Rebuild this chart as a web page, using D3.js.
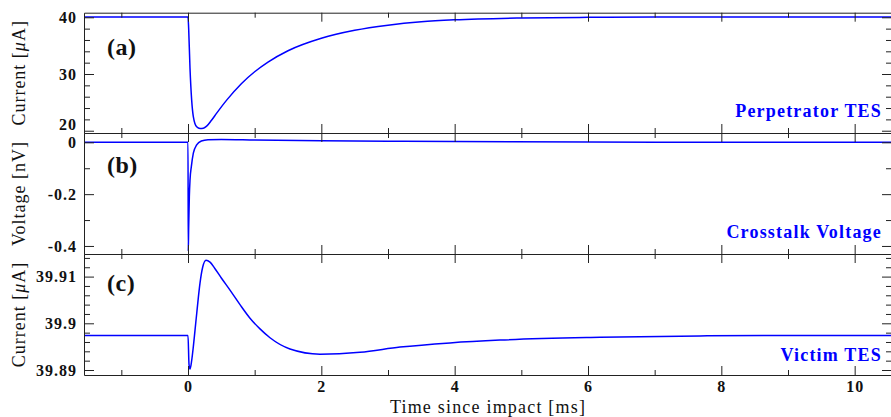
<!DOCTYPE html>
<html>
<head>
<meta charset="utf-8">
<script src="https://cdn.jsdelivr.net/npm/d3@7"></script>
<style>
  body { margin: 0; background: #fff; }
  svg { display: block; }
  .tick text { font-family: "Liberation Serif", serif; font-weight: bold; font-size: 16px; letter-spacing: 1px; fill: #111; }
  .axis path, .axis line { stroke: #222; }
  .ytitle, .xtitle { font-family: "Liberation Serif", serif; font-size: 18px; fill: #111; }
  .ytitle { letter-spacing: 1px; }
  .xtitle { letter-spacing: 1.2px; }
  .plabel { font-family: "Liberation Serif", serif; font-weight: bold; font-size: 24px; letter-spacing: 0.5px; fill: #111; }
  .legend { font-family: "Liberation Serif", serif; font-weight: bold; font-size: 18px; letter-spacing: 1.2px; fill: #0000ff; }
</style>
</head>
<body>
<script>
// time axis
var xMajor = [0, 2, 4, 6, 8, 10],
    xMinor = [-1, 1, 3, 5, 7, 9],
    xLabels = ["0", "2", "4", "6", "8", "10"];

// (a) perpetrator TES current [uA]
var timeA = [-1.56, 0, 0.01, 0.03, 0.055, 0.08, 0.13, 0.18, 0.23, 0.28, 0.35, 0.43, 0.58, 0.8, 1.0, 1.2, 1.5, 2.0, 2.5, 3.0, 3.5, 4.0, 5.0, 6.0, 7.0, 8.0, 10.56];
var currentA = [40.05, 40.05, 38.0, 31.0, 25.4, 22.5, 20.7, 20.4, 20.45, 20.8, 21.8, 23.1, 25.4, 28.3, 30.4, 32.1, 34.1, 36.3, 37.7, 38.6, 39.2, 39.55, 39.88, 39.99, 40.03, 40.05, 40.05];
var aMajor = [20, 30, 40], aMinor = [22, 24, 26, 28, 32, 34, 36, 38], aLabels = ["20", "30", "40"];

// (b) crosstalk voltage [nV]
var timeB = [-1.56, 0, 0.004, 0.01, 0.02, 0.03, 0.05, 0.08, 0.13, 0.2, 0.3, 0.5, 1.0, 2.0, 3.0, 4.0, 6.0, 8.0, 10.56];
var voltB = [0, 0, -0.42, -0.33, -0.21, -0.146, -0.094, -0.042, -0.01, 0.005, 0.01, 0.011, 0.009, 0.006, 0.004, 0.003, 0.001, 0.0005, 0];
var bMajor = [-0.4, -0.2, 0], bMinor = [-0.3, -0.1], bLabels = ["-0.4", "-0.2", "0"];

// (c) victim TES current [uA]
var timeC = [-1.56, 0, 0.015, 0.03, 0.055, 0.08, 0.105, 0.13, 0.155, 0.18, 0.22, 0.27, 0.33, 0.4, 0.5, 0.63, 0.78, 0.93, 1.08, 1.23, 1.53, 1.98, 2.58, 3.18, 3.93, 4.68, 6.18, 7.68, 9.0, 10.56];
var currentC = [39.8974, 39.8974, 39.8912, 39.8902, 39.8920, 39.8950, 39.8985, 39.9020, 39.9055, 39.9086, 39.9120, 39.9135, 39.9131, 39.9118, 39.9097, 39.9071, 39.9040, 39.9011, 39.8988, 39.8969, 39.8945, 39.8934, 39.8938, 39.8949, 39.8958, 39.8964, 39.8970, 39.8973, 39.8974, 39.8974];
var cMajor = [39.89, 39.9, 39.91], cMinor = [39.892, 39.894, 39.896, 39.898, 39.902, 39.904, 39.906, 39.908, 39.912, 39.914], cLabels = ["39.89", "39.9", "39.91"];

var width = 891, height = 417;
var left = 84, right = 892;

var svg = d3.select("body").append("svg")
    .attr("width", width)
    .attr("height", height);

var x = d3.scaleLinear().domain([-1.56, 10.56]).range([left, right]);

var panels = [
    {top: 12.7, bottom: 133, domain: [19.6, 40.81], t: timeA, v: currentA, major: aMajor, minor: aMinor, labels: aLabels,
     name: "(a)", nameY: 55, legend: "Perpetrator TES", legendY: 117, title: ["Current [", "μ", "A]"]},
    {top: 133, bottom: 254, domain: [-0.431, 0.036], t: timeB, v: voltB, major: bMajor, minor: bMinor, labels: bLabels,
     name: "(b)", nameY: 173, legend: "Crosstalk Voltage", legendY: 238, title: ["Voltage [nV]"]},
    {top: 254, bottom: 375, domain: [39.88893, 39.91484], t: timeC, v: currentC, major: cMajor, minor: cMinor, labels: cLabels,
     name: "(c)", nameY: 291, legend: "Victim TES", legendY: 361, title: ["Current [", "μ", "A]"]}
];

panels.forEach(function(p, i){
    var y = d3.scaleLinear().domain(p.domain).range([p.bottom, p.top]);
    var g = svg.append("g");
    var last = i == panels.length - 1;

    //clip the curve to the panel
    g.append("clipPath").attr("id", "clip" + i)
        .append("rect")
        .attr("x", left).attr("y", p.top)
        .attr("width", right - left).attr("height", p.bottom - p.top);

    var line = d3.line()
        .x(function(d){ return x(d[0]); })
        .y(function(d){ return y(d[1]); })
        .curve(d3.curveMonotoneX);

    g.append("path")
        .datum(d3.zip(p.t, p.v))
        .attr("clip-path", "url(#clip" + i + ")")
        .attr("fill", "none")
        .attr("stroke", "#0000ff")
        .attr("stroke-width", 1.5)
        .attr("d", line);

    //x ticks, inward on top and bottom
    g.append("g").attr("class", "axis")
        .attr("transform", "translate(0," + p.bottom + ")")
        .call(d3.axisBottom(x).tickValues(xMajor).tickSizeInner(-9).tickSizeOuter(0).tickPadding(6)
            .tickFormat(function(d, k){ return last ? xLabels[k] : ""; }));
    g.append("g").attr("class", "axis minor")
        .attr("transform", "translate(0," + p.bottom + ")")
        .call(d3.axisBottom(x).tickValues(xMinor).tickSizeInner(-5).tickSizeOuter(0).tickFormat(""));
    g.append("g").attr("class", "axis")
        .attr("transform", "translate(0," + p.top + ")")
        .call(d3.axisTop(x).tickValues(xMajor).tickSizeInner(-9).tickSizeOuter(0).tickFormat(""));
    g.append("g").attr("class", "axis minor")
        .attr("transform", "translate(0," + p.top + ")")
        .call(d3.axisTop(x).tickValues(xMinor).tickSizeInner(-5).tickSizeOuter(0).tickFormat(""));

    //y ticks, inward on left and right
    var la = g.append("g").attr("class", "axis")
        .attr("transform", "translate(" + left + ",0)")
        .call(d3.axisLeft(y).tickValues(p.major).tickSizeInner(-10).tickSizeOuter(0).tickPadding(7)
            .tickFormat(function(d, k){ return p.labels[k]; }));
    g.append("g").attr("class", "axis minor")
        .attr("transform", "translate(" + left + ",0)")
        .call(d3.axisLeft(y).tickValues(p.minor).tickSizeInner(-6).tickSizeOuter(0).tickFormat(""));
    g.append("g").attr("class", "axis")
        .attr("transform", "translate(" + right + ",0)")
        .call(d3.axisRight(y).tickValues(p.major).tickSizeInner(-10).tickSizeOuter(0).tickFormat(""));
    g.append("g").attr("class", "axis minor")
        .attr("transform", "translate(" + right + ",0)")
        .call(d3.axisRight(y).tickValues(p.minor).tickSizeInner(-6).tickSizeOuter(0).tickFormat(""));

    g.selectAll(".minor .domain").remove();

    //keep the lowest label inside the panel
    la.selectAll(".tick text").attr("dy", function(d){
        return y(d) > p.bottom - 4 ? "-0.1em" : "0.32em";
    });

    g.append("text").attr("class", "plabel")
        .attr("x", 107).attr("y", p.nameY)
        .text(p.name);

    g.append("text").attr("class", "legend")
        .attr("x", 882).attr("y", p.legendY)
        .attr("text-anchor", "end")
        .text(p.legend);

    var tt = g.append("text").attr("class", "ytitle")
        .attr("transform", "translate(25," + ((p.top + p.bottom) / 2) + ") rotate(-90)")
        .attr("text-anchor", "middle");
    p.title.forEach(function(s){
        tt.append("tspan").attr("font-style", s == "μ" ? "italic" : null).text(s);
    });
});

svg.append("text").attr("class", "xtitle")
    .attr("x", (left + right) / 2).attr("y", 413)
    .attr("text-anchor", "middle")
    .text("Time since impact [ms]");
</script>
</body>
</html>
